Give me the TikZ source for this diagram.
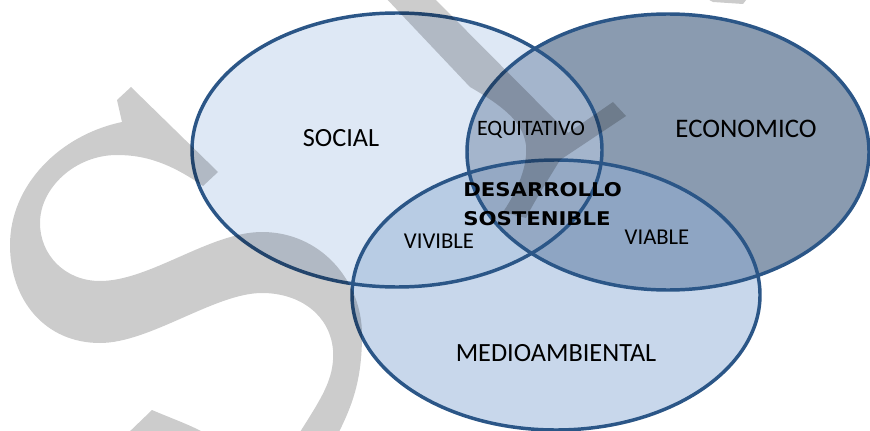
\documentclass[tikz,border=0pt]{standalone}
\usepackage{fontspec}
\setmainfont{Carlito}
\newfontfamily\dvfont{DejaVu Sans}
\definecolor{cS}{HTML}{DEE8F5}
\definecolor{cE}{HTML}{8A9BB0}
\definecolor{cM}{HTML}{C8D7EB}
\definecolor{cSE}{HTML}{A4B5CC}
\definecolor{cSM}{HTML}{B8CCE4}
\definecolor{cEM}{HTML}{8EA5C3}
\definecolor{cC}{HTML}{95A9C4}
\definecolor{rim}{HTML}{2B5687}
\definecolor{wmgray}{HTML}{CCCCCC}
\begin{document}
\begin{tikzpicture}[x=0.75pt,y=-0.75pt,
  lbl/.style={inner sep=0pt, text=black},
  small/.style={lbl, font=\fontsize{17}{20}\selectfont},
  big/.style={lbl, font=\fontsize{19.7}{22}\selectfont},
  core/.style={inner sep=0pt, anchor=west, text=black, font=\dvfont\bfseries\fontsize{14.2}{16}\selectfont},
  rimline/.style={draw=rim, line width=2.6pt},
  wm/.style={fill=wmgray}]
\useasboundingbox (0,0) rectangle (870,431);
\def\ellS{(397,150) ellipse [x radius=205, y radius=137]}
\def\ellE{(668,152) ellipse [x radius=201, y radius=138]}
\def\ellM{(556,295) ellipse [x radius=204, y radius=135]}
% base fills
\fill[cS] \ellS;
\fill[cE] \ellE;
\fill[cM] \ellM;
\begin{scope}
  \clip \ellE;
  \fill[cEM] \ellM;
\end{scope}
\begin{scope}
  \clip \ellS;
  \fill[cSE] \ellE;
  \fill[cSM] \ellM;
  \clip \ellE;
  \fill[cC] \ellM;
\end{scope}
% outlines
\draw[rimline] \ellS;
\draw[rimline] \ellE;
\draw[rimline] \ellM;
% watermark
\begin{scope}[blend mode=multiply]
  \clip (0,0) rectangle (870,431);
  \fill[wm] (117,100) -- (131,87) -- (218,172) -- (203,186)
    .. controls (170,163) and (145,155) .. (117,155)
    .. controls (75,155) and (40,188) .. (40,223)
    .. controls (40,255) and (65,281) .. (100,281)
    .. controls (150,281) and (210,232) .. (262,232)
    .. controls (320,232) and (362,280) .. (362,335)
    .. controls (362,385) and (350,410) .. (335,440)
    -- (300,460) -- (150,460) -- (125,436) -- (152,410)
    .. controls (175,420) and (200,428) .. (215,440)
    -- (295,440)
    .. controls (320,400) and (335,380) .. (333,350)
    .. controls (330,315) and (300,293) .. (262,293)
    .. controls (215,293) and (150,343) .. (100,343)
    .. controls (45,343) and (10,300) .. (10,245)
    .. controls (10,185) and (60,135) .. (122,122)
    -- cycle;
  \fill[wm] (383,-5) -- (431,-5) -- (568,133) -- (613,102) -- (626,116) -- (560,160)
    .. controls (548,180) and (535,200) .. (526,218) -- (503,212)
    .. controls (518,190) and (528,165) .. (526,145)
    .. controls (523,125) and (510,110) .. (470,87)
    -- cycle;
  \fill[wm] (700,-5) -- (750,-5) -- (743,4) -- (713,2) -- cycle;
\end{scope}
% labels
\node[big] (social) at (341,138) {SOCIAL};
\node[big, font=\fontsize{20.1}{22}\selectfont] (economico) at (746,129) {ECONOMICO};
\node[big] (medio) at (556,353) {MEDIOAMBIENTAL};
\node[small, font=\fontsize{16.5}{19}\selectfont] (equitativo) at (531,130) {EQUITATIVO};
\node[small] (vivible) at (439,241) {VIVIBLE};
\node[small] (viable) at (657,237) {VIABLE};
\node[core] (desarrollo) at (463,190) {\scalebox{1.12}[1]{DESARROLLO}};
\node[core] (sostenible) at (463,219) {\scalebox{1.12}[1]{SOSTENIBLE}};
\end{tikzpicture}
\end{document}
